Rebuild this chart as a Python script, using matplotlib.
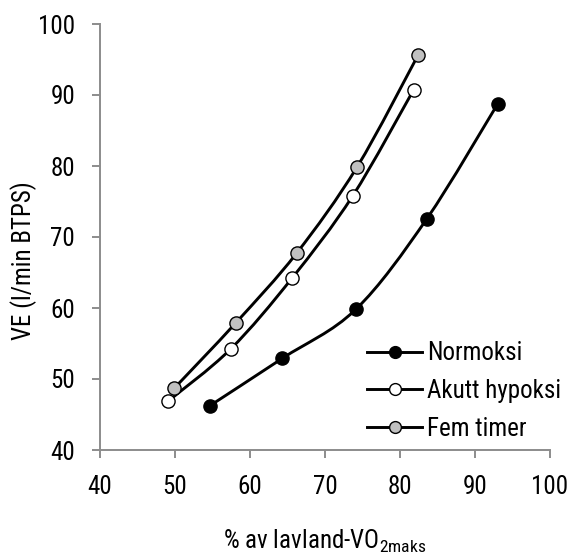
import os
import matplotlib
matplotlib.use("Agg")
import matplotlib.pyplot as plt
from matplotlib import font_manager
from matplotlib.path import Path
from matplotlib.patches import PathPatch
import numpy as np

series_names = ["Normoksi", "Akutt hypoksi", "Fem timer"]
normoksi_x = [54.6, 64.3, 74.1, 83.6, 93.0]
normoksi_y = [46.2, 52.9, 59.8, 72.6, 88.7]
akutt_x = [49.1, 57.4, 65.6, 73.7, 81.8]
akutt_y = [46.9, 54.2, 64.2, 75.8, 90.7]
fem_x = [49.9, 58.1, 66.2, 74.3, 82.4]
fem_y = [48.7, 57.9, 67.7, 79.9, 95.6]
face_colors = ["black", "white", "#c0c0c0"]
x_ticks = [40, 50, 60, 70, 80, 90, 100]
y_ticks = [40, 50, 60, 70, 80, 90, 100]

# pick a narrow sans font if one is installed (reference uses Arial Narrow)
def is_narrow(e):
    base = os.path.basename(e.fname).lower()
    return ("narrow" in e.name.lower() or "condensed" in e.name.lower()
            or "narrow" in base or "condensed" in base
            or str(e.stretch) in ("condensed", "semi-condensed", "extra-condensed"))

cands = [e for e in font_manager.fontManager.ttflist
         if is_narrow(e) and e.style == "normal"
         and e.weight in (400, "normal", "regular", "book")]
pref = ["liberation", "arimo", "roboto", "open sans", "noto sans", "dejavu sans"]
chosen = None
for p in pref:
    for e in cands:
        if e.name.lower().startswith(p) and "mono" not in e.name.lower():
            chosen = e
            break
    if chosen:
        break

if chosen is not None:
    fp_name = chosen.name
    plt.rcParams['font.family'] = [fp_name, 'Liberation Sans', 'DejaVu Sans']
    plt.rcParams['font.stretch'] = chosen.stretch
    FS = 18
else:
    plt.rcParams['font.family'] = ['Liberation Sans', 'DejaVu Sans']
    FS = 16

W, H = 568, 556
fig = plt.figure(figsize=(W / 100, H / 100), dpi=100)
ax = fig.add_axes([100 / W, 1 - 450 / H, 450 / W, 426 / H])


def smooth_path(xs, ys):
    pts = np.column_stack([xs, ys]).astype(float)
    n = len(pts)
    verts = [pts[0]]
    codes = [Path.MOVETO]
    for i in range(n - 1):
        p0 = pts[i - 1] if i > 0 else pts[i]
        p1 = pts[i]
        p2 = pts[i + 1]
        p3 = pts[i + 2] if i + 2 < n else pts[i + 1]
        c1 = p1 + (p2 - p0) / 6.0
        c2 = p2 - (p3 - p1) / 6.0
        verts += [c1, c2, p2]
        codes += [Path.CURVE4] * 3
    return Path(verts, codes)


handles = []
data = [(normoksi_x, normoksi_y), (akutt_x, akutt_y), (fem_x, fem_y)]
for (xs, ys), fc, name in zip(data, face_colors, series_names):
    patch = PathPatch(smooth_path(xs, ys), facecolor="none", edgecolor="black",
                      lw=2.1, zorder=2)
    ax.add_patch(patch)
    ax.plot(xs, ys, linestyle="none", marker="o", markersize=9.5,
            markerfacecolor=fc, markeredgecolor="black", markeredgewidth=1.0,
            zorder=3)
    h, = ax.plot([], [], color="black", lw=2.1, marker="o", markersize=8.5,
                 markerfacecolor=fc, markeredgecolor="black", markeredgewidth=1.0,
                 label=name)
    handles.append(h)

ax.set_xlim(40, 100)
ax.set_ylim(40, 100)
ax.set_xticks(x_ticks)
ax.set_yticks(y_ticks)
for s in ["top", "right"]:
    ax.spines[s].set_visible(False)
for s in ["left", "bottom"]:
    ax.spines[s].set_color("#8c8c8c")
    ax.spines[s].set_linewidth(1.4)
ax.tick_params(axis="both", direction="out", length=6, width=1.4,
               color="#8c8c8c", labelsize=FS, pad=12)

fig.text(24 / W, 1 - 261 / H, "VE (l/min BTPS)", fontsize=FS, rotation=90,
         ha="center", va="center")
fig.text(325 / W, 7 / H, r"% av lavland-VO$_\mathregular{2maks}$",
         fontsize=FS, ha="center", va="baseline")

fig.legend(handles=handles, loc="center left", bbox_to_anchor=(367 / W, 1 - 391 / H),
           frameon=False, fontsize=FS, handlelength=2.2, handletextpad=0.2,
           labelspacing=0.55, borderaxespad=0, borderpad=0)

fig.savefig("out.png", dpi=100)
